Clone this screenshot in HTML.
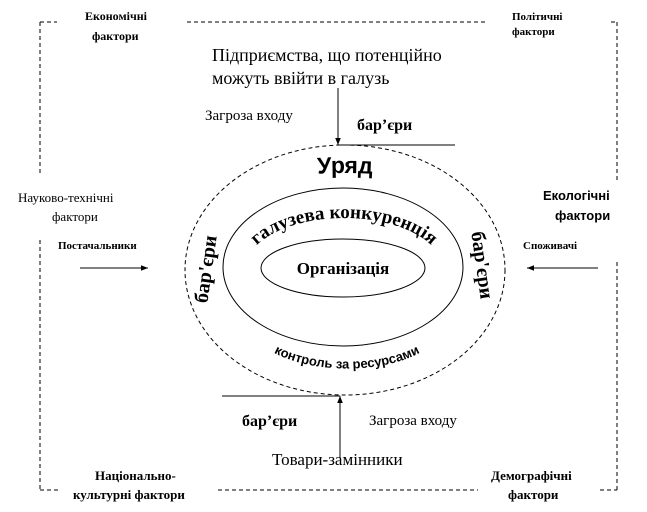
<!DOCTYPE html>
<html><head><meta charset="utf-8"><style>
html,body{margin:0;padding:0;background:#fff;}
svg{display:block;}
text{fill:#000;}
.s{font-family:"Liberation Serif","Noto Serif CJK SC",serif;}
.a{font-family:"Liberation Sans","Noto Sans CJK SC",sans-serif;}
</style></head><body>
<svg width="647" height="512" viewBox="0 0 647 512" xmlns="http://www.w3.org/2000/svg">
<defs>
<marker id="ar" viewBox="0 0 10 10" refX="10" refY="5" markerWidth="7" markerHeight="7" orient="auto"><path d="M0,1 L10,5 L0,9 z" fill="#000"/></marker>
<path id="top1" d="M 270 185 A 75 12 0 0 1 420 185"/>
<path id="top2" d="M 246 268 A 98 50 0 0 1 442 268"/>
<path id="bot" d="M 252 330 A 96 45 0 0 0 442 330"/>
</defs>
<g stroke="#000" stroke-width="1" fill="none" stroke-dasharray="4,3">
<line x1="40" y1="22" x2="57" y2="22"/>
<line x1="187" y1="22" x2="487" y2="22"/>
<line x1="611" y1="22" x2="617" y2="22"/>
<line x1="40" y1="22" x2="40" y2="175"/>
<line x1="40" y1="240" x2="40" y2="490"/>
<line x1="617" y1="22" x2="617" y2="180"/>
<line x1="617" y1="262" x2="617" y2="490"/>
<line x1="40" y1="490" x2="60" y2="490"/>
<line x1="218" y1="490" x2="478" y2="490"/>
<line x1="600" y1="490" x2="617" y2="490"/>
<ellipse cx="345" cy="270" rx="160" ry="125"/>
</g>
<g stroke="#000" stroke-width="1" fill="none">
<ellipse cx="343" cy="267" rx="120" ry="79"/>
<ellipse cx="343" cy="268" rx="82" ry="29"/>
<line x1="338" y1="145" x2="455" y2="145"/>
<line x1="338" y1="88" x2="338" y2="145" marker-end="url(#ar)"/>
<line x1="222" y1="396" x2="340" y2="396"/>
<line x1="340" y1="458" x2="340" y2="396" marker-end="url(#ar)"/>
<line x1="80" y1="268" x2="148" y2="268" marker-end="url(#ar)"/>
<line x1="598" y1="268" x2="527" y2="268" marker-end="url(#ar)"/>
</g>
<g class="s" font-weight="bold" font-size="12">
<text x="85" y="20">Економічні</text>
<text x="92" y="40">фактори</text>
<text x="512" y="20" font-size="11">Політичні</text>
<text x="512" y="35" font-size="11">фактори</text>
<text x="18" y="202" font-weight="normal" font-size="13">Науково-технічні</text>
<text x="52" y="221" font-weight="normal" font-size="13">фактори</text>
<text x="58" y="249" font-size="11">Постачальники</text>
<text x="523" y="249" font-size="11">Споживачі</text>
<text x="95" y="480" font-size="13">Національно-</text>
<text x="73" y="499" font-size="13">культурні  фактори</text>
<text x="491" y="480" font-size="13">Демографічні</text>
<text x="508" y="499" font-size="13">фактори</text>
</g>
<text class="a" x="543" y="200" font-weight="bold" font-size="13">Екологічні</text>
<text class="a" x="555" y="220" font-weight="bold" font-size="13">фактори</text>
<text class="s" x="212" y="61" font-size="18">Підприємства,  що  потенційно</text>
<text class="s" x="212" y="84" font-size="18">можуть ввійти в галузь</text>
<text class="s" x="205" y="120" font-size="15">Загроза входу</text>
<text class="s" x="357" y="130" font-size="16" font-weight="bold">бар’єри</text>
<text class="s" x="242" y="426" font-size="16" font-weight="bold">бар’єри</text>
<text class="s" x="369" y="425" font-size="15">Загроза входу</text>
<text class="s" x="272" y="465" font-size="17">Товари-замінники</text>
<text class="s" x="343" y="274" font-size="17" font-weight="bold" text-anchor="middle">Організація</text>
<text class="a" font-size="23" font-weight="bold"><textPath href="#top1" startOffset="50%" text-anchor="middle">Уряд</textPath></text>
<text class="s" font-size="19" font-weight="bold"><textPath href="#top2" startOffset="50%" text-anchor="middle">галузева конкуренція</textPath></text>
<text class="a" font-size="13" font-weight="bold"><textPath href="#bot" startOffset="50%" text-anchor="middle">контроль за ресурсами</textPath></text>
<text class="s" font-size="20" font-weight="bold" text-anchor="middle" transform="translate(212,270) rotate(-82)">бар'єри</text>
<text class="s" font-size="20" font-weight="bold" text-anchor="middle" transform="translate(476,266) rotate(82)">бар'єри</text>
</svg>
</body></html>
